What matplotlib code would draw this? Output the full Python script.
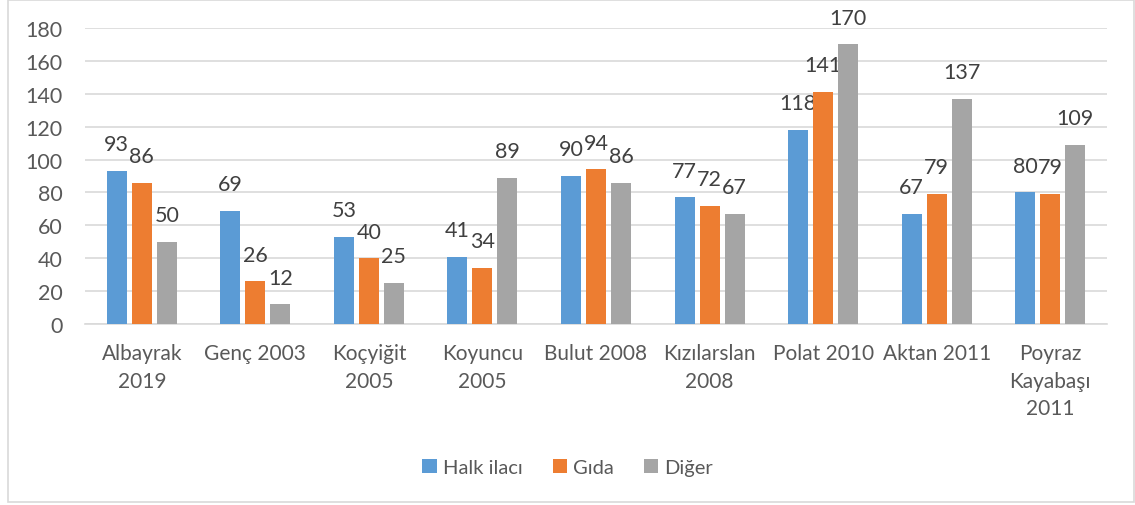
import numpy as np
import matplotlib.pyplot as plt
from matplotlib.patches import Rectangle

plt.rcParams['font.family'] = ['Lato', 'DejaVu Sans']

# chart data
studies = ['Albayrak\n2019', 'Genç 2003', 'Koçyiğit\n2005', 'Koyuncu\n2005', 'Bulut 2008',
           'Kızılarslan\n2008', 'Polat 2010', 'Aktan 2011', 'Poyraz\nKayabaşı\n2011']
halk_ilaci = [93, 69, 53, 41, 90, 77, 118, 67, 80]
gida = [86, 26, 40, 34, 94, 72, 141, 79, 79]
diger = [50, 12, 25, 89, 86, 67, 170, 137, 109]
series_names = ['Halk ilacı', 'Gıda', 'Diğer']
colors = ['#5B9BD5', '#ED7D31', '#A5A5A5']
y_ticks = [0, 20, 40, 60, 80, 100, 120, 140, 160, 180]

text_color = '#595959'
grid_color = '#D9D9D9'

fig = plt.figure(figsize=(11.35, 5.06), dpi=100)
ax = fig.add_axes([0.0749, 0.3577, 0.9004, 0.585])

# light frame around the whole chart
fig.patches.append(Rectangle((0.007, 0.006), 0.992, 0.993, transform=fig.transFigure,
                             fill=False, edgecolor=grid_color, linewidth=1.2))

x = np.arange(len(studies))
width = 0.176
step = 0.22
for i, (vals, name, col) in enumerate(zip([halk_ilaci, gida, diger], series_names, colors)):
    bars = ax.bar(x + (i - 1) * step, vals, width, color=col, label=name, zorder=3)
    for b, v in zip(bars, vals):
        ax.annotate(str(v), (b.get_x() + b.get_width() / 2, v), xytext=(0, 12),
                    textcoords='offset points', ha='center', va='bottom',
                    fontsize=15.5, color='#404040')

ax.set_xlim(-0.5, len(studies) - 0.5)
ax.set_ylim(0, 180)
ax.set_yticks(y_ticks)
ax.set_xticks(x)
ax.set_xticklabels(studies, linespacing=1.45, fontsize=15)
ax.tick_params(axis='both', length=0, colors=text_color)
ax.tick_params(axis='y', pad=16, labelsize=15.5)
ax.tick_params(axis='x', pad=14)
ax.yaxis.grid(True, color=grid_color, linewidth=1.2, zorder=0)
for s in ['top', 'right', 'left']:
    ax.spines[s].set_visible(False)
ax.spines['bottom'].set_color(grid_color)
ax.spines['bottom'].set_linewidth(1.2)

fig.legend(loc='center', bbox_to_anchor=(0.5, 0.075), ncol=3, frameon=False,
           fontsize=14.5, labelcolor=text_color, handlelength=0.7, handleheight=0.7,
           handletextpad=0.3, columnspacing=1.5)

fig.savefig('out.png', dpi=100)
